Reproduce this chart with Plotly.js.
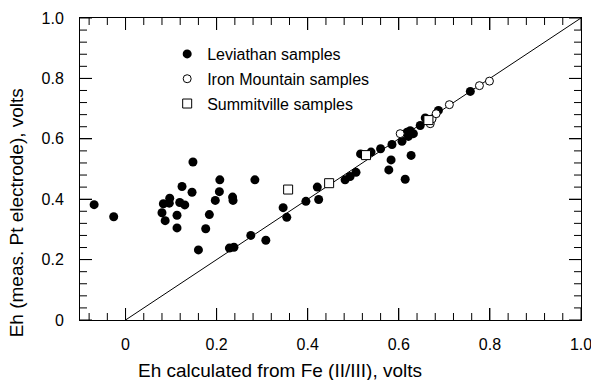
<!DOCTYPE html>
<html>
<head>
<meta charset="utf-8">
<script src="https://cdn.plot.ly/plotly-3.0.1.min.js"></script>
<style>html,body{margin:0;padding:0;background:#fff;}#chart{width:591px;height:380px;}</style>
</head>
<body>
<div id="chart"></div>
<script>
// Leviathan samples (filled circles)
const levX = [-0.069, -0.026, 0.148, 0.124, 0.146, 0.097, 0.083, 0.096, 0.119, 0.130, 0.080, 0.113, 0.087, 0.113, 0.184, 0.176, 0.160, 0.207, 0.284, 0.206, 0.197, 0.235, 0.236, 0.346, 0.354, 0.275, 0.308, 0.228, 0.238, 0.396, 0.424, 0.421, 0.482, 0.493, 0.506, 0.516, 0.539, 0.560, 0.585, 0.583, 0.578, 0.607, 0.627, 0.614, 0.618, 0.625, 0.632, 0.621, 0.647, 0.658, 0.687, 0.757];
const levY = [0.382, 0.342, 0.523, 0.442, 0.423, 0.403, 0.385, 0.387, 0.389, 0.381, 0.355, 0.347, 0.329, 0.305, 0.349, 0.302, 0.232, 0.464, 0.464, 0.425, 0.396, 0.407, 0.396, 0.372, 0.340, 0.280, 0.264, 0.238, 0.241, 0.393, 0.399, 0.440, 0.464, 0.475, 0.489, 0.550, 0.556, 0.567, 0.581, 0.530, 0.497, 0.592, 0.545, 0.466, 0.622, 0.627, 0.617, 0.608, 0.644, 0.669, 0.694, 0.757];
// Iron Mountain samples (open circles)
const imX = [0.603, 0.669, 0.673, 0.682, 0.711, 0.777, 0.799];
const imY = [0.617, 0.650, 0.666, 0.683, 0.713, 0.776, 0.791];
// Summitville samples (open squares)
const sumX = [0.357, 0.447, 0.528, 0.665];
const sumY = [0.432, 0.453, 0.546, 0.662];
// 1:1 reference line
const oneToOne = [0, 1];
// axis ranges and tick label aliases
const xRange = [-0.1, 1.0];
const yRange = [0, 1.0];
const tickAlias = {'0.0': '0'};

const FONT = 'Liberation Sans, Arial, sans-serif';
const FS = 16;
const TFS = 19;
const W = 591, H = 380;
const M = {l: 80, r: 10, t: 18, b: 60};
const MAJOR = 0.2, MINOR = 0.04, MAJLEN = 12, MINLEN = 7;

// inside tick marks on all four sides, built from the axis ranges as one line trace
const plotW = W - M.l - M.r, plotH = H - M.t - M.b;
const xPerPx = (xRange[1] - xRange[0]) / plotW;
const yPerPx = (yRange[1] - yRange[0]) / plotH;
const tickX = [], tickY = [];
function tickValues(range) {
  const out = [];
  const s = Math.ceil(range[0] / MINOR - 1e-9), e = Math.floor(range[1] / MINOR + 1e-9);
  for (let i = s; i <= e; i++) {
    out.push({v: Math.round(i * MINOR * 1000) / 1000, major: i % Math.round(MAJOR / MINOR) === 0});
  }
  return out;
}
tickValues(xRange).forEach(t => {
  const d = (t.major ? MAJLEN : MINLEN) * yPerPx;
  tickX.push(t.v, t.v, null, t.v, t.v, null);
  tickY.push(yRange[0], yRange[0] + d, null, yRange[1], yRange[1] - d, null);
});
tickValues(yRange).forEach(t => {
  const d = (t.major ? MAJLEN : MINLEN) * xPerPx;
  tickX.push(xRange[0], xRange[0] + d, null, xRange[1], xRange[1] - d, null);
  tickY.push(t.v, t.v, null, t.v, t.v, null);
});

const traces = [
  {x: tickX, y: tickY, mode: 'lines', line: {color: '#000', width: 1}, showlegend: false, hoverinfo: 'skip', connectgaps: false},
  {x: oneToOne, y: oneToOne, mode: 'lines', line: {color: '#000', width: 1}, showlegend: false, hoverinfo: 'skip'},
  {x: levX, y: levY, mode: 'markers', name: 'Leviathan samples', legendgroup: 'a',
   marker: {symbol: 'circle', size: 9, color: '#000', line: {width: 0}}},
  {x: imX, y: imY, mode: 'markers', name: 'Iron Mountain samples', legendgroup: 'b',
   marker: {symbol: 'circle', size: 8, color: '#fff', line: {color: '#000', width: 1}}},
  {x: sumX, y: sumY, mode: 'markers', name: 'Summitville samples', legendgroup: 'c',
   marker: {symbol: 'square', size: 9, color: '#fff', line: {color: '#000', width: 1}}}
];

function axis(extra) {
  return Object.assign({
    showgrid: false, zeroline: false, showline: true, linecolor: '#000', mirror: 'ticks',
    ticks: 'inside', ticklen: MAJLEN, tickcolor: '#000', tickwidth: 1,
    tickmode: 'linear', tick0: 0, dtick: MAJOR, tickformat: '.1f', labelalias: tickAlias,
    ticklabeloverflow: 'allow',
    tickfont: {family: FONT, size: FS, color: '#000'}
  }, extra);
}

const layout = {
  width: W, height: H,
  margin: M,
  font: {family: FONT, size: FS, color: '#000'},
  showlegend: true,
  legend: {x: 0.174, y: 0.937, xanchor: 'left', yanchor: 'top', bgcolor: 'rgba(0,0,0,0)',
           font: {family: FONT, size: FS, color: '#000'}, traceorder: 'grouped', tracegroupgap: 1},
  xaxis: axis({range: xRange, ticklabelstandoff: 10}),
  yaxis: axis({range: yRange, ticklabelstandoff: 12}),
  annotations: [
    {text: 'Eh calculated from Fe (II/III), volts', xref: 'paper', yref: 'paper', x: 0.40, y: -0.167,
     xanchor: 'center', yanchor: 'middle', showarrow: false, font: {family: FONT, size: TFS, color: '#000'}},
    {text: 'Eh (meas. Pt electrode), volts', xref: 'paper', yref: 'paper', x: -0.126, y: 0.356,
     xanchor: 'center', yanchor: 'middle', textangle: -90, showarrow: false, font: {family: FONT, size: TFS, color: '#000'}}
  ]
};

Plotly.newPlot('chart', traces, layout, {displayModeBar: false, staticPlot: true});
</script>
</body>
</html>
